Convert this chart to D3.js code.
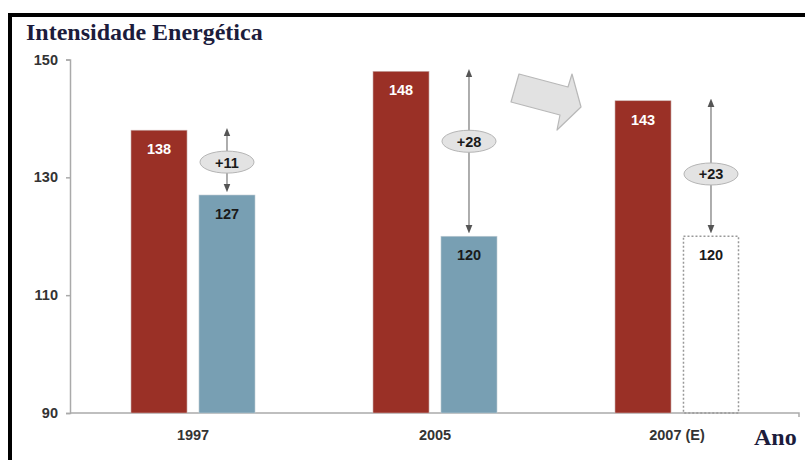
<!DOCTYPE html>
<html><head><meta charset="utf-8">
<script src="https://cdn.jsdelivr.net/npm/d3@7"></script>
<style>body{margin:0;background:#fff}svg{display:block}</style>
</head><body>
<script>
const categories = ["1997", "2005", "2007 (E)"];
const seriesA = [138, 148, 143];
const seriesB = [127, 120, 120];
const estimated = [false, false, true];
const diffs = ["+11", "+28", "+23"];
const yTicks = [90, 110, 130, 150];
const title = "Intensidade Energética";
const xTitle = "Ano";

const W = 805, H = 460;
const svg = d3.select("body").append("svg").attr("width", W).attr("height", H);
const SANS = "Liberation Sans, Arial, sans-serif";

// frame
svg.append("rect").attr("x", 8).attr("y", 13).attr("width", 800).attr("height", 4).attr("fill", "#000");
svg.append("rect").attr("x", 8).attr("y", 13).attr("width", 4).attr("height", 450).attr("fill", "#000");

svg.append("text").attr("x", 26).attr("y", 40).text(title)
  .attr("font-family", "Liberation Serif, serif").attr("font-weight", "bold").attr("font-size", 24).attr("fill", "#1c1c3c");

const y = d3.scaleLinear().domain([90, 150]).range([413, 59.5]);
const x = d3.scaleBand().domain(categories).range([72, 798]).paddingInner(0.4876).paddingOuter(0.2438);
const inner = d3.scaleBand().domain([0, 1]).range([0, x.bandwidth()]).paddingInner(0.176);

// axes
const yAxis = svg.append("g").attr("transform", "translate(70,0)")
  .call(d3.axisLeft(y).tickValues(yTicks).tickSize(4).tickPadding(8));
yAxis.select(".domain").attr("stroke", "#aaa").attr("stroke-width", 1.5);
yAxis.selectAll(".tick line").attr("stroke", "#aaa").attr("stroke-width", 1.5);
yAxis.selectAll("text").attr("font-family", SANS).attr("font-weight", "bold").attr("font-size", 14.5).attr("fill", "#333");

const xAxis = svg.append("g").attr("transform", "translate(0,413)")
  .call(d3.axisBottom(x).tickSize(0).tickPadding(17).tickSizeOuter(0));
xAxis.select(".domain").remove();
svg.append("path").attr("d", "M70,413H799V417").attr("fill", "none").attr("stroke", "#aaa").attr("stroke-width", 1.5);
xAxis.selectAll("text").attr("font-family", SANS).attr("font-weight", "bold").attr("font-size", 14.5).attr("fill", "#333");

svg.append("text").attr("x", 754).attr("y", 445).text(xTitle)
  .attr("font-family", "Liberation Serif, serif").attr("font-weight", "bold").attr("font-size", 24).attr("fill", "#1c1c3c");

// arrow markers
const defs = svg.append("defs");
["s", "e"].forEach(k => {
  defs.append("marker").attr("id", "m" + k).attr("viewBox", "0 0 10 10").attr("refX", 5).attr("refY", 5)
    .attr("markerWidth", 7).attr("markerHeight", 7).attr("orient", "auto-start-reverse")
    .append("path").attr("d", "M0,1L10,5L0,9Z").attr("fill", "#555");
});

const g = svg.append("g");
categories.forEach((c, i) => {
  const x0 = x(c);
  const bw = inner.bandwidth();
  // red bar
  g.append("rect").attr("x", x0 + inner(0)).attr("y", y(seriesA[i])).attr("width", bw).attr("height", y(90) - y(seriesA[i]))
    .attr("fill", "#9a3026").attr("stroke", "#c9b0ad").attr("stroke-width", 0.6);
  g.append("text").attr("x", x0 + inner(0) + bw / 2).attr("y", y(seriesA[i]) + 24).attr("text-anchor", "middle")
    .attr("font-family", SANS).attr("font-weight", "bold").attr("font-size", 14.5).attr("fill", "#fff").text(seriesA[i]);
  // blue bar / estimate
  const bx = x0 + inner(1);
  if (estimated[i]) {
    g.append("rect").attr("x", bx + 0.5).attr("y", y(seriesB[i])).attr("width", bw - 1).attr("height", y(90) - y(seriesB[i]))
      .attr("fill", "none").attr("stroke", "#999").attr("stroke-width", 1.5).attr("stroke-dasharray", "2,2");
  } else {
    g.append("rect").attr("x", bx).attr("y", y(seriesB[i])).attr("width", bw).attr("height", y(90) - y(seriesB[i]))
      .attr("fill", "#789fb3").attr("stroke", "#c0ccd4").attr("stroke-width", 0.6);
  }
  g.append("text").attr("x", bx + bw / 2).attr("y", y(seriesB[i]) + 24).attr("text-anchor", "middle")
    .attr("font-family", SANS).attr("font-weight", "bold").attr("font-size", 14.5).attr("fill", "#1a1a1a").text(seriesB[i]);
  // double arrow
  const ax = bx + bw / 2;
  const yTop = y(seriesA[i]) - 2, yBot = y(seriesB[i]) - 3;
  g.append("line").attr("x1", ax).attr("x2", ax).attr("y1", yTop + 4).attr("y2", yBot - 4)
    .attr("stroke", "#777").attr("stroke-width", 1.2)
    .attr("marker-start", "url(#ms)").attr("marker-end", "url(#me)");
  const cy = (yTop + yBot) / 2 + (i === 0 ? 2 : (i === 1 ? -10 : 8));
  g.append("ellipse").attr("cx", ax).attr("cy", cy).attr("rx", 27).attr("ry", 11)
    .attr("fill", "#e3e3e3").attr("stroke", "#b5b5b5").attr("stroke-width", 1);
  g.append("text").attr("x", ax).attr("y", cy + 5.5).attr("text-anchor", "middle")
    .attr("font-family", SANS).attr("font-weight", "bold").attr("font-size", 14.5).attr("fill", "#1a1a1a").text(diffs[i]);
});

// big block arrow
svg.append("path").attr("d", "M519,74L568,87L572,74L581,107L557,130L560,115L511,102Z")
  .attr("fill", "#e2e2e2").attr("stroke", "#b8b8b8").attr("stroke-width", 1.2).attr("stroke-linejoin", "round");
</script>
</body></html>
